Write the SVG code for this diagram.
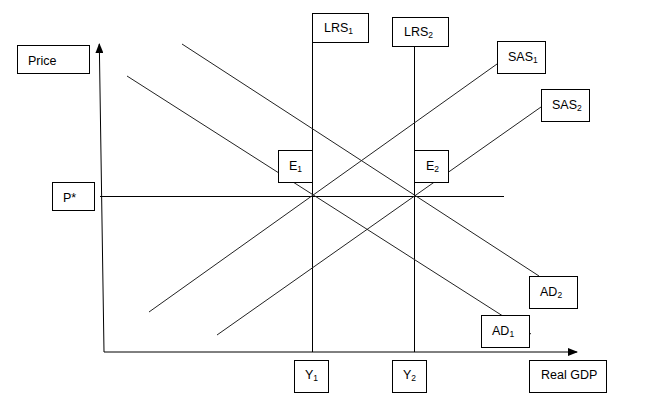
<svg xmlns="http://www.w3.org/2000/svg" width="647" height="416" viewBox="0 0 647 416">
<style>
.box{fill:#fff;stroke:#000;stroke-width:1}
.ln{stroke:#000;stroke-width:1;fill:none}
.dg{stroke:#222;stroke-width:1;fill:none}
text{font-family:"Liberation Sans",Arial,sans-serif;font-size:12.5px;fill:#000}
.sub{font-size:8.5px}
</style>
<defs>
<marker id="arr" markerWidth="10" markerHeight="8" refX="9" refY="4" orient="auto" markerUnits="userSpaceOnUse">
<path d="M0,0 L10,4 L0,8 Z" fill="#000"/>
</marker>
</defs>
<rect width="647" height="416" fill="#fff"/>
<g id="connectors">
<line class="ln" x1="104" y1="352" x2="99.3" y2="44" marker-end="url(#arr)"/>
<line class="ln" x1="104" y1="352" x2="577" y2="352" marker-end="url(#arr)"/>
<line class="ln" x1="100" y1="196.5" x2="504" y2="196.5"/>
<line class="ln" x1="312.5" y1="42" x2="312.5" y2="352"/>
<line class="ln" x1="414.5" y1="46" x2="414.5" y2="352"/>
<line class="dg" x1="149" y1="312" x2="497" y2="64"/>
<line class="dg" x1="217" y1="335" x2="541" y2="107"/>
<line class="dg" x1="127" y1="76" x2="531" y2="334"/>
<line class="dg" x1="182" y1="44" x2="539" y2="276"/>
</g>
<g id="price"><rect class="box" x="17.5" y="45.5" width="72" height="28"/><text x="28" y="65">Price</text></g>
<g id="pstar"><rect class="box" x="52.5" y="182.5" width="42" height="28"/><text x="63" y="202">P*</text></g>
<g id="lrs1"><rect class="box" x="312.5" y="13.5" width="56" height="29"/><text x="324" y="32">LRS<tspan class="sub" dy="2">1</tspan></text></g>
<g id="lrs2"><rect class="box" x="392.5" y="17.5" width="56" height="29"/><text x="404" y="36">LRS<tspan class="sub" dy="2">2</tspan></text></g>
<g id="sas1"><rect class="box" x="497.5" y="41.5" width="48" height="32"/><text x="508" y="61">SAS<tspan class="sub" dy="2">1</tspan></text></g>
<g id="sas2"><rect class="box" x="541.5" y="89.5" width="48" height="32"/><text x="552" y="109">SAS<tspan class="sub" dy="2">2</tspan></text></g>
<g id="e1"><rect class="box" x="278.5" y="150.5" width="34" height="32"/><text x="289" y="170">E<tspan class="sub" dy="2">1</tspan></text></g>
<g id="e2"><rect class="box" x="414.5" y="150.5" width="34" height="32"/><text x="426" y="170">E<tspan class="sub" dy="2">2</tspan></text></g>
<g id="ad2"><rect class="box" x="529.5" y="276.5" width="48" height="32"/><text x="540" y="296">AD<tspan class="sub" dy="2">2</tspan></text></g>
<g id="ad1"><rect class="box" x="481.5" y="315.5" width="48" height="32"/><text x="492" y="335">AD<tspan class="sub" dy="2">1</tspan></text></g>
<g id="y1"><rect class="box" x="294.5" y="360.5" width="34" height="32"/><text x="305" y="379">Y<tspan class="sub" dy="2">1</tspan></text></g>
<g id="y2"><rect class="box" x="392.5" y="360.5" width="34" height="32"/><text x="403" y="379">Y<tspan class="sub" dy="2">2</tspan></text></g>
<g id="realgdp"><rect class="box" x="529.5" y="360.5" width="77" height="32"/><text x="541" y="379">Real GDP</text></g>
</svg>
